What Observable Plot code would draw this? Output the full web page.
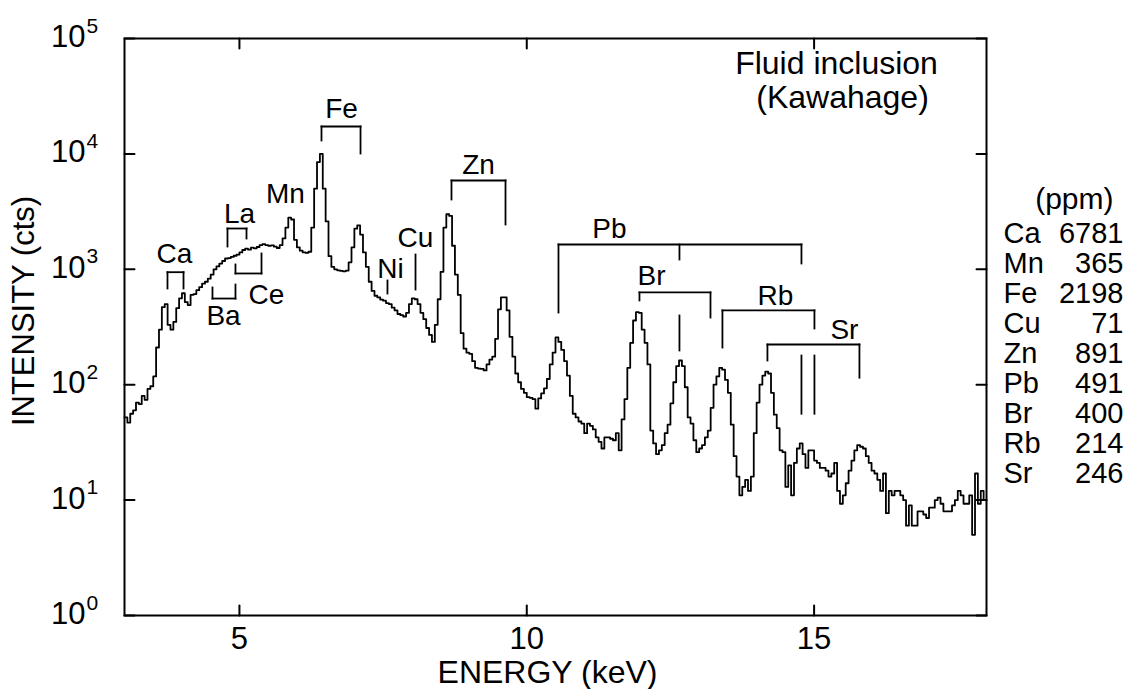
<!DOCTYPE html>
<html>
<head>
<meta charset="utf-8">
<script src="https://cdn.jsdelivr.net/npm/d3@7"></script>
<script src="https://cdn.jsdelivr.net/npm/@observablehq/plot@0.6"></script>
<style>
  html, body { margin: 0; padding: 0; background: #fff; overflow: hidden; }
  #chart { width: 1128px; height: 689px; }
</style>
</head>
<body>
<div id="chart"></div>
<script>
// ---- Spectrum (counts per 0.05 keV bin, starting at 3.00 keV) ----
const binStart = 3.0;
const binWidth = 0.05;
const counts = [
  52,47,56,60,70,68,80,74,92,97,
  118,210,300,470,500,330,300,350,460,560,
  620,520,490,600,610,660,700,750,780,830,
  900,1000,1060,1120,1180,1240,1250,1280,1310,1340,
  1400,1470,1510,1480,1540,1520,1560,1620,1650,1620,
  1600,1610,1570,1530,1620,1850,2300,2800,2700,1800,
  1550,1450,1400,1390,1420,2300,5000,8500,10000,5000,
  2600,1300,1050,1000,980,970,960,975,1150,1550,
  2250,2400,2000,1400,1050,780,650,590,570,545,
  535,510,500,465,440,410,400,390,420,500,
  560,550,500,420,370,310,270,235,330,550,
  950,2300,3000,2900,1600,900,600,280,205,190,
  185,160,140,138,137,133,150,165,175,250,
  450,570,570,440,260,175,125,105,92,85,
  78,77,75,62,76,84,93,112,150,190,
  257,235,200,160,120,80,56,52,48,46,
  38,46,44,41,35,32,28,35,35,34,
  33,38,27,50,75,140,230,360,425,420,
  300,230,150,40,31,25,27,30,38,45,
  69,105,145,162,145,95,52,46,33,26,
  28,30,35,40,63,100,118,140,135,110,
  85,45,24,16,11,13,15,12,16,38,
  70,100,120,130,125,85,55,42,27,26,
  13,20,11,21,28,31,25,19,27,27,
  22,21,19,19,18,16,17,21,12,9.3,
  11,14,18,22,27,30,29,28,24,21,
  18,17,15,12,17,7.7,12,11,12,12,
  11,10,6,9,6,6,8,8,7.5,7,
  8.6,8.6,10,10.5,9.3,8,8,8,9,10,
  12,11,9.3,9.3,11,5,17,9.3,12,10
];

// ---- Axes ----
const xDomain = [3, 18];
const yDomain = [1, 1e5];
const xTicks = [5, 10, 15];
const yExponents = [0, 1, 2, 3, 4, 5];

// ---- Element labels (energy keV, intensity at text baseline) ----
const labelNames     = ["Ca", "Ba", "La", "Ce", "Mn", "Fe", "Ni", "Cu", "Zn", "Pb", "Br", "Rb", "Sr"];
const labelEnergy    = [3.870, 4.723, 5.001, 5.471, 5.801, 6.776, 7.629, 8.064, 9.160, 11.439, 12.170, 14.328, 15.528];
const labelIntensity = [1145, 326, 2544, 505, 3718, 20270, 849, 1576, 6761, 1886, 724, 486, 251];

// ---- Line brackets (leg energies, bar level, leg ends) ----
const bracketNames    = ["Ca", "Ba", "La", "Ce", "Fe", "Zn", "Pb", "Br", "Rb", "Sr"];
const bracketEnergies = [[3.748, 4.027], [4.531, 4.931], [4.792, 5.123], [4.931, 5.384], [6.428, 7.107],
                         [8.690, 9.630], [10.552, 12.657, 14.780], [11.961, 13.197], [13.405, 15.006], [14.188, 15.789]];
const bracketBar      = [944, 558, 2257, 920, 17280, 5883, 1640, 630, 440, 223];
const bracketEnds     = [[682, 682], [696, 738], [1576, 1849], [1101, 1371], [13065, 10080],
                         [4026, 2445], [422, 1216, 1123], [537, 382], [210, 307], [162, 115]];

// ---- Single line markers ----
const markerEnergy = [7.576, 8.064, 12.657, 14.780, 15.006];
const markerTop    = [800, 1343, 398, 179, 179];
const markerBottom = [617, 668, 198, 56, 56];

// ---- Concentration table ----
const tableElements = ["Ca", "Mn", "Fe", "Cu", "Zn", "Pb", "Br", "Rb", "Sr"];
const tablePpm      = [6781, 365, 2198, 71, 891, 491, 400, 214, 246];

// ---- Title ----
const titleLines = ["Fluid inclusion", "(Kawahage)"];

// build tables for the library
const spectrum = counts.map((c, i) => ({e: binStart + binWidth * i, c}));
spectrum.push({e: binStart + binWidth * counts.length, c: counts[counts.length - 1]});

const segments = [];
bracketEnergies.forEach((es, k) => {
  const bar = bracketBar[k];
  segments.push({x1: es[0], y1: bar, x2: es[es.length - 1], y2: bar});
  es.forEach((e, j) => segments.push({x1: e, y1: bar, x2: e, y2: bracketEnds[k][j]}));
});
markerEnergy.forEach((e, k) => segments.push({x1: e, y1: markerTop[k], x2: e, y2: markerBottom[k]}));

const labels = labelNames.map((n, i) => ({n, e: labelEnergy[i], v: labelIntensity[i]}));
const yTickValues = yExponents.map(p => 10 ** p);

const tickShape = {draw(context, l) { context.moveTo(0, 0); context.lineTo(0, -l); }};
const tickOpts = {length: 10, anchor: "start", shape: tickShape, strokeWidth: 2, stroke: "black"};
const font = "'Liberation Sans', Arial, Helvetica, sans-serif";

const chart = Plot.plot({
  width: 1128,
  height: 689,
  marginLeft: 124,
  marginRight: 142,
  marginTop: 38,
  marginBottom: 74,
  x: {domain: xDomain, axis: null},
  y: {type: "log", domain: yDomain, axis: null},
  style: {fontFamily: font, fontSize: "31px", background: "white", color: "black"},
  marks: [
    Plot.line(spectrum, {x: "e", y: "c", curve: "step-after", stroke: "black", strokeWidth: 1.8}),
    Plot.link(segments, {x1: "x1", y1: "y1", x2: "x2", y2: "y2", stroke: "black", strokeWidth: 1.8, strokeLinecap: "square"}),
    Plot.text(labels, {x: "e", y: "v", text: "n", textAnchor: "middle", lineAnchor: "bottom", fontSize: 28, fill: "black"}),
    Plot.frame({stroke: "black", strokeWidth: 2}),
    // inward ticks on all four sides
    Plot.vector(xTicks, {x: d => d, frameAnchor: "bottom", rotate: 0, ...tickOpts}),
    Plot.vector(xTicks, {x: d => d, frameAnchor: "top", rotate: 180, ...tickOpts}),
    Plot.vector(yTickValues, {y: d => d, frameAnchor: "left", rotate: 90, ...tickOpts}),
    Plot.vector(yTickValues, {y: d => d, frameAnchor: "right", rotate: -90, ...tickOpts}),
    // x tick labels
    Plot.text(xTicks, {x: d => d, frameAnchor: "bottom", text: d => String(d), textAnchor: "middle", lineAnchor: "bottom", dy: 33, fontSize: 31, fill: "black"}),
    // y tick labels 10^n
    Plot.text(yTickValues, {y: d => d, frameAnchor: "left", text: () => "10", textAnchor: "end", lineAnchor: "bottom", dx: -39, dy: 8.5, fontSize: 31, fill: "black"}),
    Plot.text(yExponents, {y: d => 10 ** d, frameAnchor: "left", text: d => String(d), textAnchor: "start", lineAnchor: "bottom", dx: -38, dy: -6, fontSize: 21, fill: "black"}),
    // axis titles
    Plot.text(["ENERGY (keV)"], {text: d => d, frameAnchor: "bottom", textAnchor: "middle", lineAnchor: "middle", dx: -8, dy: 57, fontSize: 32, fill: "black"}),
    Plot.text(["INTENSITY (cts)"], {text: d => d, frameAnchor: "left", textAnchor: "middle", rotate: -90, lineAnchor: "middle", dx: -100, dy: -16, fontSize: 31, fill: "black"}),
    // title inside frame
    Plot.text([titleLines[0]], {text: d => d, frameAnchor: "top-right", textAnchor: "middle", lineAnchor: "bottom", dx: -150, dy: 35, fontSize: 32, fill: "black"}),
    Plot.text([titleLines[1]], {text: d => d, frameAnchor: "top-right", textAnchor: "middle", lineAnchor: "bottom", dx: -144, dy: 69, fontSize: 32, fill: "black"}),
    // concentration table
    Plot.text(["(ppm)"], {text: d => d, frameAnchor: "top-right", textAnchor: "end", lineAnchor: "bottom", dx: 127, dy: 170, fontSize: 30, fill: "black"}),
    Plot.text([tableElements.join("\n")], {text: d => d, frameAnchor: "top-right", textAnchor: "start", lineAnchor: "bottom", lineHeight: 30 / 29, dx: 17, dy: 444, fontSize: 29, fill: "black"}),
    Plot.text([tablePpm.join("\n")], {text: d => d, frameAnchor: "top-right", textAnchor: "end", lineAnchor: "bottom", lineHeight: 30 / 29, dx: 137, dy: 444, fontSize: 29, fill: "black"})
  ]
});
document.getElementById("chart").appendChild(chart);
</script>
</body>
</html>
